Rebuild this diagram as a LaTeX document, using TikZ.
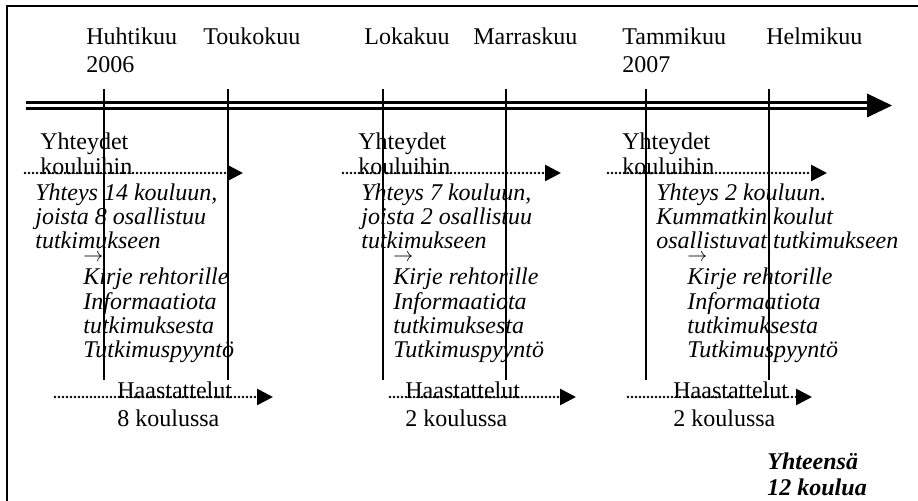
\documentclass[tikz,border=0pt]{standalone}
\usepackage{fontspec}
\setmainfont{Liberation Serif}
\usetikzlibrary{arrows.meta}
\tikzset{
  lbl/.style={inner sep=0pt, anchor=base west, align=left,
    font=\fontsize{12pt}{13.8pt}\selectfont},
  note/.style={lbl, font=\fontsize{12pt}{11.8pt}\selectfont\itshape},
  steps/.style={lbl, font=\fontsize{12pt}{12.2pt}\selectfont\itshape},
  total/.style={lbl, font=\fontsize{12pt}{13pt}\selectfont\bfseries\itshape},
  tick/.style={line width=0.8pt},
  dotarrow/.style={line width=1.35pt, line cap=round, dash pattern=on 0pt off 2pt,
    -{Triangle[length=8pt,width=8pt]}},
  tline/.style={line width=1.5pt}
}
\begin{document}
\begin{tikzpicture}[x=0.5pt,y=-0.5pt]
      \useasboundingbox (0,0) rectangle (918,501);
      \draw[line width=0.9pt] (7,501) -- (7,6) -- (918,6);
      % months (base = last line)
      \path
        (86,72.6) node[lbl] (apr){Huhtikuu\\2006}
        (203,45) node[lbl] (may){Toukokuu}
        (364,45) node[lbl] (oct){Lokakuu}
        (473,45) node[lbl] (nov){Marraskuu}
        (622,72.6) node[lbl] (jan){Tammikuu\\2007}
        (766,45) node[lbl] (feb){Helmikuu};
      % time line
      \coordinate (ts) at (26,105.5);
      \coordinate (tb) at (867,105.5);
      \coordinate (te) at (892,105.5);
      \draw[tline] ([yshift=1.4pt]ts) -- ([yshift=1.4pt]tb);
      \draw[tline] ([yshift=-1.4pt]ts) -- ([yshift=-1.4pt]tb);
      \fill (te) -- ([yshift=6pt]tb) -- ([yshift=-6pt]tb) -- cycle;
      \foreach \x in {104,228,383,506,646,769}
        \draw[tick] (\x,89) -- (\x,380);
      % contacts
      \path
        (40,175) node[lbl,font=\fontsize{12pt}{12.5pt}\selectfont] (c1){Yhteydet\\kouluihin}
        (358,175) node[lbl,font=\fontsize{12pt}{12.5pt}\selectfont] (c2){Yhteydet\\kouluihin}
        (622,175) node[lbl,font=\fontsize{12pt}{12.5pt}\selectfont] (c3){Yhteydet\\kouluihin}
        (35,248.2) node[note] (n1){Yhteys 14 kouluun,\\joista 8 osallistuu\\tutkimukseen}
        (361,248.2) node[note] (n2){Yhteys 7 kouluun,\\joista 2 osallistuu\\tutkimukseen}
        (656,248.2) node[note] (n3){Yhteys 2 kouluun.\\Kummatkin koulut\\osallistuvat tutkimukseen}
        (83,262) node[lbl,font=\fontsize{10pt}{10pt}\selectfont] (a1){$\rightarrow$}
        (393,262) node[lbl,font=\fontsize{10pt}{10pt}\selectfont] (a2){$\rightarrow$}
        (687,262) node[lbl,font=\fontsize{10pt}{10pt}\selectfont] (a3){$\rightarrow$}
        (83,358) node[steps] (s1){Kirje rehtorille\\Informaatiota\\tutkimuksesta\\Tutkimuspyyntö}
        (393,358) node[steps] (s2){Kirje rehtorille\\Informaatiota\\tutkimuksesta\\Tutkimuspyyntö}
        (687,358) node[steps] (s3){Kirje rehtorille\\Informaatiota\\tutkimuksesta\\Tutkimuspyyntö};
      % interviews
      \path
        (117,427) node[lbl,font=\fontsize{12pt}{14pt}\selectfont] (h1){Haastattelut\\8 koulussa}
        (405,427) node[lbl,font=\fontsize{12pt}{14pt}\selectfont] (h2){Haastattelut\\2 koulussa}
        (673,427) node[lbl,font=\fontsize{12pt}{14pt}\selectfont] (h3){Haastattelut\\2 koulussa}
        (767,496) node[total] (sum){Yhteensä\\12 koulua};
      \coordinate (k1s) at (25,173);  \coordinate (k1e) at (243,173);
      \coordinate (k2s) at (343,173); \coordinate (k2e) at (561,173);
      \coordinate (k3s) at (608,173); \coordinate (k3e) at (827,173);
      \coordinate (i1s) at (55,397);  \coordinate (i1e) at (273,397);
      \coordinate (i2s) at (390,397); \coordinate (i2e) at (576,397);
      \coordinate (i3s) at (628,397); \coordinate (i3e) at (812,397);
      \begin{scope}[dotarrow]
        \draw (k1s) to (k1e);
        \draw (k2s) to (k2e);
        \draw (k3s) to (k3e);
        \draw (i1s) to (i1e);
        \draw (i2s) to (i2e);
        \draw (i3s) to (i3e);
      \end{scope}
    \end{tikzpicture}
\end{document}
